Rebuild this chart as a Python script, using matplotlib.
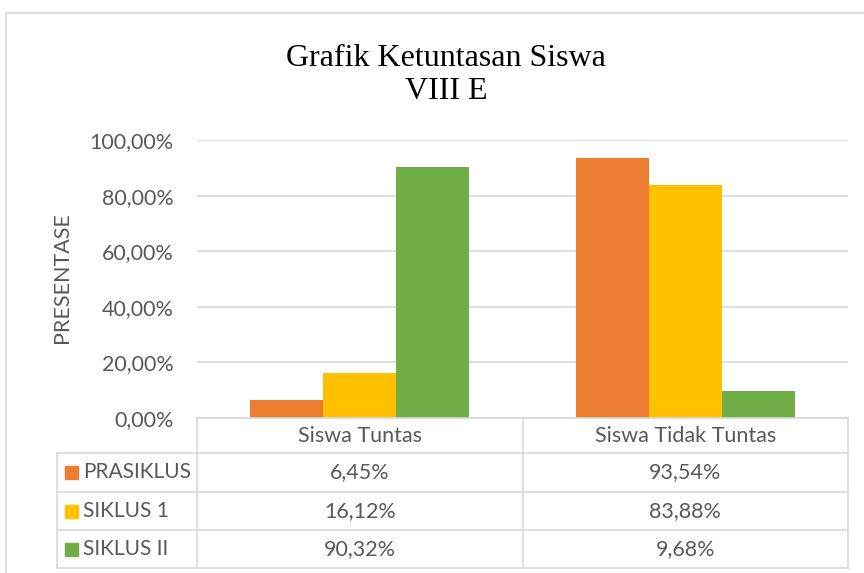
import matplotlib
matplotlib.use("Agg")
import matplotlib.pyplot as plt
import matplotlib.transforms as mtransforms
from matplotlib.ticker import FuncFormatter
from matplotlib.patches import Rectangle
from matplotlib.lines import Line2D

# Дані графіка
categories = ["Siswa Tuntas", "Siswa Tidak Tuntas"]
series_names = ["PRASIKLUS", "SIKLUS 1", "SIKLUS II"]
prasiklus = [6.45, 93.54]
siklus_1 = [16.12, 83.88]
siklus_2 = [90.32, 9.68]
series_values = [prasiklus, siklus_1, siklus_2]
colors = ["#ED7D31", "#FFC000", "#70AD47"]

W, H = 864, 573
text_color = "#595959"
line_color = "#D9D9D9"
font = "Lato"
fs = 15.5

fig = plt.figure(figsize=(W / 100, H / 100), dpi=100)

# пікселі -> частки фігури
def fx(x):
    return x / W

def fy(y):
    return 1 - y / H

# рамка всієї діаграми
fig.add_artist(Rectangle((fx(6), fy(575)), fx(870) - fx(6), fy(13) - fy(575),
                         transform=fig.transFigure, fill=False,
                         edgecolor=line_color, linewidth=1.2))

fig.text(fx(446), fy(75), "Grafik Ketuntasan Siswa\nVIII E", ha="center", va="center",
         family="Liberation Serif", fontsize=23, color="black", linespacing=1.2)

ax = fig.add_axes([fx(197), fy(418), fx(848) - fx(197), fy(140) - fy(418)])
n = len(series_names)
bw = 0.224
for i, (name, vals, c) in enumerate(zip(series_names, series_values, colors)):
    xs = [k + (i - (n - 1) / 2) * bw for k in range(len(categories))]
    ax.bar(xs, vals, width=bw, color=c, zorder=3)

ax.set_xlim(-0.5, len(categories) - 0.5)
ax.set_ylim(0, 100)
ax.set_yticks([0, 20, 40, 60, 80, 100])
ax.yaxis.set_major_formatter(FuncFormatter(lambda v, p: f"{v:.2f}%".replace(".", ",")))
ax.grid(axis="y", color=line_color, linewidth=1.2, zorder=0)
ax.set_xticks([])
for s in ax.spines.values():
    s.set_visible(False)
ax.tick_params(axis="y", length=0, pad=17, labelsize=fs, labelcolor=text_color)
for lbl in ax.get_yticklabels():
    lbl.set_family(font)
fig.text(fx(62), fy(278), "PRESENTASE", rotation=90, ha="center", va="center",
         family=font, fontsize=fs, color=text_color)

# таблиця даних під графіком
tr = mtransforms.blended_transform_factory(ax.transData, fig.transFigure)
col_edges = [k - 0.5 for k in range(len(categories) + 1)]
row_y = [418, 453, 492, 530, 568]
x_left = fx(57)
x0 = fx(197)
x1 = fx(848)

fig.add_artist(Line2D([x0, x1], [fy(418), fy(418)], transform=fig.transFigure,
                      color=line_color, linewidth=1.2))
for y in row_y[1:]:
    fig.add_artist(Line2D([x_left, x1], [fy(y), fy(y)], transform=fig.transFigure,
                          color=line_color, linewidth=1.2))
for e in col_edges:
    fig.add_artist(Line2D([e, e], [fy(418), fy(568)], transform=tr,
                          color=line_color, linewidth=1.2))
fig.add_artist(Line2D([x_left, x_left], [fy(453), fy(568)], transform=fig.transFigure,
                      color=line_color, linewidth=1.2))

for k, cat in enumerate(categories):
    fig.text(k, fy((row_y[0] + row_y[1]) / 2), cat, transform=tr, ha="center", va="center",
             family=font, fontsize=fs, color=text_color)

for i, (name, vals, c) in enumerate(zip(series_names, series_values, colors)):
    yc = (row_y[i + 1] + row_y[i + 2]) / 2
    fig.add_artist(Rectangle((fx(65), fy(yc + 6.5)), fx(13), fy(yc - 6.5) - fy(yc + 6.5),
                             transform=fig.transFigure, color=c))
    fig.text(fx(83), fy(yc), name, ha="left", va="center", family=font,
             fontsize=15, color=text_color)
    for k, v in enumerate(vals):
        fig.text(k, fy(yc), f"{v:.2f}%".replace(".", ","), transform=tr, ha="center",
                 va="center", family=font, fontsize=fs, color=text_color)

fig.savefig("out.png", dpi=100)
